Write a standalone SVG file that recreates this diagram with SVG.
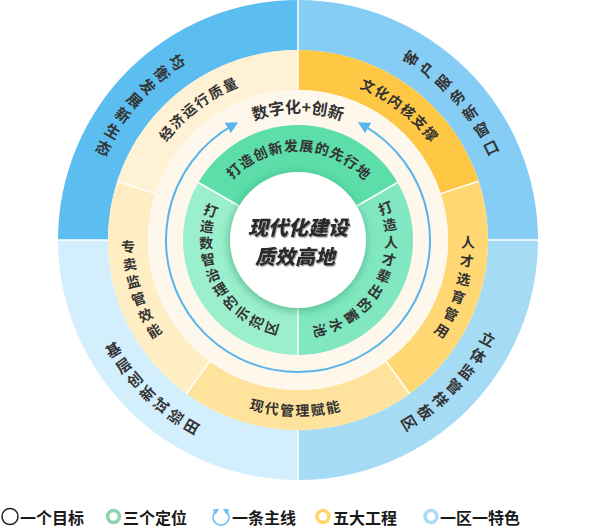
<svg xmlns="http://www.w3.org/2000/svg" width="599" height="527" viewBox="0 0 599 527">
<style>
.t{font-family:"Noto Sans CJK SC","Noto Sans",sans-serif;fill:#333;text-anchor:middle;dominant-baseline:central;font-weight:700}
.o{font-size:15px}
.y{font-size:14px}
.g{font-size:14px}
.sep{stroke:#fff;stroke-width:1.5;fill:none}
.lg{font-family:"Noto Sans CJK SC","Noto Sans",sans-serif;font-size:16px;font-weight:700;fill:#1a1a1a;dominant-baseline:central}
.ct{font-family:"Noto Sans CJK SC","Noto Sans",sans-serif;font-size:20px;font-weight:900;font-style:italic;fill:#2b2b2b;text-anchor:middle;dominant-baseline:central}
</style>
<defs>
<marker id="ah" viewBox="0 0 10 10" refX="5" refY="5" markerWidth="12" markerHeight="12" markerUnits="userSpaceOnUse" orient="auto-start-reverse">
<path d="M0,0 L10,5 L0,10 Z" fill="#5BB5EC"/>
</marker>
<marker id="ahs" viewBox="0 0 10 10" refX="5" refY="5" markerWidth="6" markerHeight="6" markerUnits="userSpaceOnUse" orient="auto-start-reverse">
<path d="M0,0 L10,5 L0,10 Z" fill="#6CC0F0"/>
</marker>
<filter id="sh" x="-30%" y="-30%" width="160%" height="160%">
<feDropShadow dx="-1" dy="2" stdDeviation="5" flood-color="#1f8a5c" flood-opacity="0.55"/>
</filter>
<filter id="tsh" x="-10%" y="-20%" width="120%" height="140%">
<feDropShadow dx="1" dy="1.2" stdDeviation="0.6" flood-color="#000" flood-opacity="0.35"/>
</filter>
</defs>

<!-- outer ring: 一区一特色 -->
<g id="zone-tl">
<path d="M298,0 A240,240 0 0 0 58,240 L108,240 A190,190 0 0 1 298,50 Z" fill="#5CBDF0"/>
<g class="t o">
<text transform="translate(177.8,61.8) rotate(56)">均</text>
<text transform="translate(162.4,73.1) rotate(50.9)">衡</text>
<text transform="translate(148.2,85.8) rotate(45.8)">发</text>
<text transform="translate(135.1,99.7) rotate(40.8)">展</text>
<text transform="translate(123.3,114.6) rotate(35.7)">新</text>
<text transform="translate(112.9,130.6) rotate(30.6)">生</text>
<text transform="translate(103.9,147.4) rotate(25.5)">态</text>
</g>
</g>
<g id="zone-tr">
<path d="M538,240 A240,240 0 0 0 298,0 L298,50 A190,190 0 0 1 488,240 Z" fill="#86CDF5"/>
<g class="t o">
<text transform="translate(410.1,57.7) rotate(-58.4)">客</text>
<text transform="translate(426.8,69.1) rotate(-53)">户</text>
<text transform="translate(442.5,82.1) rotate(-47.5)">服</text>
<text transform="translate(456.8,96.5) rotate(-42.1)">务</text>
<text transform="translate(469.6,112.2) rotate(-36.7)">新</text>
<text transform="translate(481,129) rotate(-31.2)">窗</text>
<text transform="translate(490.7,146.9) rotate(-25.8)">口</text>
</g>
</g>
<g id="zone-bl">
<path d="M58,240 A240,240 0 0 0 298,480 L298,430 A190,190 0 0 1 108,240 Z" fill="#D3EEFC"/>
<g class="t o">
<text transform="translate(112.9,349.4) rotate(-30.6)">基</text>
<text transform="translate(123,364.8) rotate(-35.5)">层</text>
<text transform="translate(134.3,379.3) rotate(-40.4)">创</text>
<text transform="translate(146.8,392.8) rotate(-45.3)">新</text>
<text transform="translate(160.4,405.2) rotate(-50.2)">试</text>
<text transform="translate(175,416.3) rotate(-55.1)">验</text>
<text transform="translate(190.5,426.2) rotate(-60)">田</text>
</g>
</g>
<g id="zone-br">
<path d="M298,480 A240,240 0 0 0 538,240 L488,240 A190,190 0 0 1 298,430 Z" fill="#A6DBF6"/>
<g class="t o">
<text transform="translate(488,338.5) rotate(27.4)">立</text>
<text transform="translate(478.3,355.2) rotate(32.6)">体</text>
<text transform="translate(467.2,371.1) rotate(37.8)">监</text>
<text transform="translate(454.6,385.8) rotate(43)">管</text>
<text transform="translate(440.8,399.3) rotate(48.1)">样</text>
<text transform="translate(425.9,411.6) rotate(53.3)">板</text>
<text transform="translate(409.8,422.5) rotate(58.5)">区</text>
</g>
</g>

<!-- yellow ring: 五大工程 -->
<g id="eng-tl">
<path d="M298,50 A190,190 0 0 0 117.3,181.3 L155.3,193.6 A150,150 0 0 1 298,90 Z" fill="#FEF1D4"/>
<g class="t y">
<text transform="translate(165.9,133) rotate(-51)">经</text>
<text transform="translate(176.7,120.9) rotate(-45.5)">济</text>
<text transform="translate(188.6,109.9) rotate(-40.1)">运</text>
<text transform="translate(201.4,100.1) rotate(-34.6)">行</text>
<text transform="translate(215.2,91.5) rotate(-29.2)">质</text>
<text transform="translate(229.7,84.3) rotate(-23.7)">量</text>
</g>
</g>
<g id="eng-tr">
<path d="M478.7,181.3 A190,190 0 0 0 298,50 L298,90 A150,150 0 0 1 440.7,193.6 Z" fill="#FFC844"/>
<g class="t y">
<text transform="translate(368,85.1) rotate(24.3)">文</text>
<text transform="translate(382.2,92.3) rotate(29.7)">化</text>
<text transform="translate(395.8,100.9) rotate(35.1)">内</text>
<text transform="translate(408.4,110.7) rotate(40.5)">核</text>
<text transform="translate(420.1,121.7) rotate(45.9)">支</text>
<text transform="translate(430.7,133.7) rotate(51.3)">撑</text>
</g>
</g>
<g id="eng-r">
<path d="M409.7,393.7 A190,190 0 0 0 478.7,181.3 L440.7,193.6 A150,150 0 0 1 386.2,361.4 Z" fill="#FFD874"/>
<g class="t y">
<text transform="translate(468,241.5) rotate(0.5)">人</text>
<text transform="translate(466.8,260.1) rotate(6.8)">才</text>
<text transform="translate(463.6,278.5) rotate(13.1)">选</text>
<text transform="translate(458.3,296.5) rotate(19.4)">育</text>
<text transform="translate(451.2,313.7) rotate(25.7)">管</text>
<text transform="translate(442.2,330.1) rotate(32)">用</text>
</g>
</g>
<g id="eng-b">
<path d="M186.3,393.7 A190,190 0 0 0 409.7,393.7 L386.2,361.4 A150,150 0 0 1 209.8,361.4 Z" fill="#FFE29C"/>
<g class="t y">
<text transform="translate(256.9,404.9) rotate(14)">现</text>
<text transform="translate(271.9,408) rotate(8.8)">代</text>
<text transform="translate(287.1,409.6) rotate(3.7)">管</text>
<text transform="translate(302.4,409.9) rotate(-1.5)">理</text>
<text transform="translate(317.7,408.9) rotate(-6.6)">赋</text>
<text transform="translate(332.8,406.4) rotate(-11.8)">能</text>
</g>
</g>
<g id="eng-l">
<path d="M117.3,181.3 A190,190 0 0 0 186.3,393.7 L209.8,361.4 A150,150 0 0 1 155.3,193.6 Z" fill="#FFEEC4"/>
<g class="t y">
<text transform="translate(128.1,245.9) rotate(-2)">专</text>
<text transform="translate(129.7,263.7) rotate(-8)">卖</text>
<text transform="translate(133.1,281.1) rotate(-14)">监</text>
<text transform="translate(138.3,298.1) rotate(-20)">管</text>
<text transform="translate(145.2,314.5) rotate(-26)">效</text>
<text transform="translate(153.8,330.1) rotate(-32)">能</text>
</g>
</g>

<!-- cream ring -->
<circle cx="298" cy="240" r="150" fill="#FEF8EC"/>

<!-- green ring: 三个定位 -->
<g id="pos-top">
<path d="M397.6,182.5 A115,115 0 0 0 198.4,182.5 L298,240 Z" fill="#5CDDA9"/>
</g>
<g id="pos-left">
<path d="M198.4,182.5 A115,115 0 0 0 298,355 L298,240 Z" fill="#9CEFCD"/>
</g>
<g id="pos-right">
<path d="M298,355 A115,115 0 0 0 397.6,182.5 L298,240 Z" fill="#80E7C0"/>
</g>

<!-- separators -->
<g id="separators" class="sep">
<path d="M298,0 V50 M298,430 V480 M58,240 H108 M488,240 H538"/>
<path d="M440.7,193.6 L478.7,181.3 M298,50 V90 M117.3,181.3 L155.3,193.6 M186.3,393.7 L209.8,361.4 M409.7,393.7 L386.2,361.4"/>
<path d="M397.6,182.5 L356.9,206 M198.4,182.5 L239.1,206 M298,355 V300"/>
</g>

<!-- core -->
<g id="core">
<circle cx="298" cy="240" r="68" fill="#fff" filter="url(#sh)"/>
<g filter="url(#tsh)">
<text class="ct" x="298" y="226">现代化建设</text>
<text class="ct" x="295" y="255">质效高地</text>
</g>
</g>

<!-- green texts -->
<g class="t g">
<text transform="translate(233.3,170.4) rotate(-42.9)">打</text>
<text transform="translate(245.9,160.6) rotate(-33.3)">造</text>
<text transform="translate(259.9,153) rotate(-23.7)">创</text>
<text transform="translate(275,147.8) rotate(-14)">新</text>
<text transform="translate(290.7,145.3) rotate(-4.4)">发</text>
<text transform="translate(306.6,145.4) rotate(5.2)">展</text>
<text transform="translate(322.3,148.2) rotate(14.8)">的</text>
<text transform="translate(337.3,153.5) rotate(24.5)">先</text>
<text transform="translate(351.2,161.3) rotate(34.1)">行</text>
<text transform="translate(363.6,171.3) rotate(43.7)">地</text>
</g>
<g class="t g">
<text transform="translate(211,210) rotate(19)">打</text>
<text transform="translate(207.1,226) rotate(8.8)">造</text>
<text transform="translate(206,242.3) rotate(-1.4)">数</text>
<text transform="translate(207.9,258.6) rotate(-11.7)">智</text>
<text transform="translate(212.6,274.3) rotate(-21.9)">治</text>
<text transform="translate(220.1,288.9) rotate(-32.1)">理</text>
<text transform="translate(230,301.9) rotate(-42.3)">的</text>
<text transform="translate(242.1,313) rotate(-52.6)">示</text>
<text transform="translate(255.9,321.8) rotate(-62.8)">范</text>
<text transform="translate(271.1,328) rotate(-73)">区</text>
</g>
<g class="t g">
<text transform="translate(385.1,207.4) rotate(-20.5)">打</text>
<text transform="translate(389.7,224.2) rotate(-9.8)">造</text>
<text transform="translate(391,241.5) rotate(0.9)">人</text>
<text transform="translate(389.1,258.8) rotate(11.7)">才</text>
<text transform="translate(384,275.4) rotate(22.4)">辈</text>
<text transform="translate(375.9,290.8) rotate(33.1)">出</text>
<text transform="translate(365.1,304.4) rotate(43.8)">的</text>
<text transform="translate(351.9,315.8) rotate(54.6)">蓄</text>
<text transform="translate(336.9,324.5) rotate(65.3)">水</text>
<text transform="translate(320.5,330.2) rotate(76)">池</text>
</g>

<!-- main line -->
<g id="connectors">
<path d="M233,125.1 A132,132 0 1 0 363,125.1" fill="none" stroke="#5BB5EC" stroke-width="2" marker-start="url(#ah)" marker-end="url(#ah)"/>
</g>
<g id="mainline-label">
<path id="arcTop" d="M188,176.5 A127,127 0 0 1 408,176.5" fill="none"/>
<text style="font-family:'Noto Sans CJK SC',sans-serif;font-size:16px;font-weight:700;fill:#333"><textPath href="#arcTop" startOffset="50%" text-anchor="middle">数字化+创新</textPath></text>
</g>

<!-- legend -->
<g id="legend">
<circle cx="10" cy="516.5" r="8" fill="none" stroke="#222" stroke-width="1.5"/>
<text class="lg" x="20" y="516.5">一个目标</text>
<circle cx="113.5" cy="516.5" r="6" fill="none" stroke="#8ED2AF" stroke-width="3.5"/>
<text class="lg" x="123" y="516.5">三个定位</text>
<path d="M216.5,510.5 A8,8 0 1 0 225.5,510.5" fill="none" stroke="#6CC0F0" stroke-width="1.6" marker-start="url(#ahs)" marker-end="url(#ahs)"/>
<text class="lg" x="232" y="516.5">一条主线</text>
<circle cx="323" cy="516.5" r="6" fill="none" stroke="#FFD56C" stroke-width="3.5"/>
<text class="lg" x="333" y="516.5">五大工程</text>
<circle cx="431" cy="516.5" r="6" fill="none" stroke="#A9DCF7" stroke-width="3.5"/>
<text class="lg" x="440" y="516.5">一区一特色</text>
</g>
</svg>
